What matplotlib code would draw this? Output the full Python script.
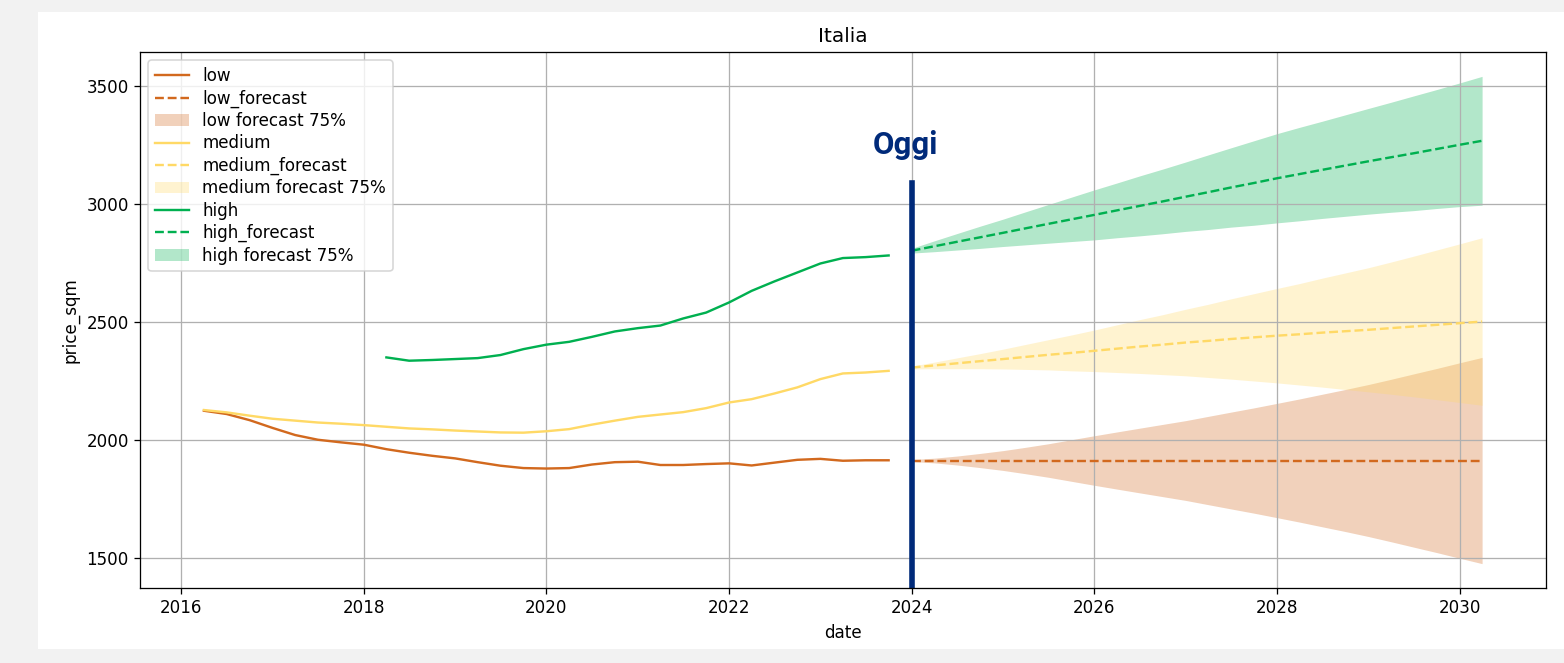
import pandas as pd
import matplotlib
matplotlib.use("Agg")
import matplotlib.pyplot as plt
import matplotlib.dates as mdates
from matplotlib.patches import Rectangle

# -----------------------------
# Data (quarterly prices per sqm)
# -----------------------------
hist_dates = pd.date_range("2016-04-01", "2023-10-01", freq="QS")
high_dates = pd.date_range("2018-04-01", "2023-10-01", freq="QS")
fc_dates = pd.date_range("2024-01-01", "2030-04-01", freq="QS")

low = [2123, 2109, 2083, 2050, 2020, 2000, 1989, 1979, 1960, 1945, 1932,
       1921, 1905, 1890, 1880, 1878, 1880, 1895, 1905, 1907, 1893, 1893,
       1897, 1900, 1891, 1903, 1915, 1919, 1911, 1913, 1913]
medium = [2126, 2116, 2102, 2089, 2081, 2073, 2068, 2062, 2055, 2048, 2044,
          2039, 2035, 2031, 2030, 2036, 2045, 2064, 2081, 2097, 2107, 2117,
          2134, 2158, 2172, 2196, 2222, 2257, 2281, 2285, 2292]
high = [2349, 2335, 2338, 2342, 2346, 2359, 2384, 2403, 2415, 2436, 2459,
        2473, 2484, 2514, 2539, 2582, 2631, 2671, 2709, 2747, 2770, 2774,
        2781]

low_fc = [1912] * 26
low_dev = [4, 10, 19, 30, 42, 56, 71, 88, 105, 121, 137, 153, 169, 187, 205,
           223, 242, 261, 281, 301, 322, 344, 367, 390, 414, 437]
medium_fc = [2306, 2315, 2324, 2333, 2342, 2351, 2360, 2368, 2377, 2386, 2395,
             2403, 2412, 2419, 2427, 2434, 2441, 2447, 2454, 2460, 2466, 2473,
             2480, 2487, 2494, 2501]
medium_dev = [6, 14, 23, 32, 42, 53, 64, 76, 88, 101, 114, 127, 141, 155, 170,
              185, 200, 215, 231, 247, 263, 280, 298, 317, 336, 355]
high_fc = [2801, 2820, 2839, 2858, 2877, 2896, 2915, 2934, 2953, 2972, 2991,
           3010, 3030, 3049, 3069, 3088, 3108, 3126, 3144, 3162, 3180, 3197,
           3214, 3232, 3250, 3267]
high_dev = [10, 23, 35, 47, 58, 70, 82, 94, 106, 116, 127, 137, 147, 158, 168,
            179, 189, 198, 206, 215, 224, 233, 243, 252, 262, 273]

today = pd.Timestamp("2024-01-01")
today_top = 3090

# -----------------------------
# Plot
# -----------------------------
c_low, c_med, c_high = "#d2691e", "#ffd966", "#00b050"
plt.rcParams["font.size"] = 10.5

fig = plt.figure(figsize=(1564 / 115, 663 / 115), dpi=115, facecolor="#f2f2f2")
fig.patches.append(Rectangle((38 / 1564, 1 - 649 / 663), 1 - 38 / 1564, (649 - 12) / 663,
                             transform=fig.transFigure, facecolor="white",
                             edgecolor="none", zorder=-10))
ax = fig.add_axes([140 / 1564, 1 - 588 / 663, (1546 - 140) / 1564, (588 - 52) / 663])

series = [
    ("low", hist_dates, low, low_fc, low_dev, c_low),
    ("medium", hist_dates, medium, medium_fc, medium_dev, c_med),
    ("high", high_dates, high, high_fc, high_dev, c_high),
]
for name, dates, hist, fc, dev, col in series:
    ax.plot(dates, hist, color=col, label=name)
    ax.plot(fc_dates, fc, color=col, linestyle="--", label=name + "_forecast")
    lo = [f - d for f, d in zip(fc, dev)]
    hi = [f + d for f, d in zip(fc, dev)]
    ax.fill_between(fc_dates, lo, hi, color=col, alpha=0.3, linewidth=0,
                    label=name + " forecast 75%")

ax.autoscale_view()
y0, y1 = ax.get_ylim()
ax.axvline(today, ymin=0, ymax=(today_top - y0) / (y1 - y0), color="#002a7a", linewidth=3.5)
ax.annotate("Oggi", (today, 3210), xytext=(-4, 0), textcoords="offset points",
            ha="center", va="baseline", fontsize=19.5, fontweight="bold",
            family="Roboto", color="#002a7a")

ax.xaxis.set_major_locator(mdates.YearLocator(2))
ax.xaxis.set_major_formatter(mdates.DateFormatter("%Y"))
ax.set_yticks([1500, 2000, 2500, 3000, 3500])
ax.grid(True)
ax.set_xlabel("date")
ax.set_ylabel("price_sqm")
ax.set_title("Italia")
ax.legend(loc="upper left", labelspacing=0.26)

fig.savefig("out.png", dpi=115, facecolor=fig.get_facecolor())
